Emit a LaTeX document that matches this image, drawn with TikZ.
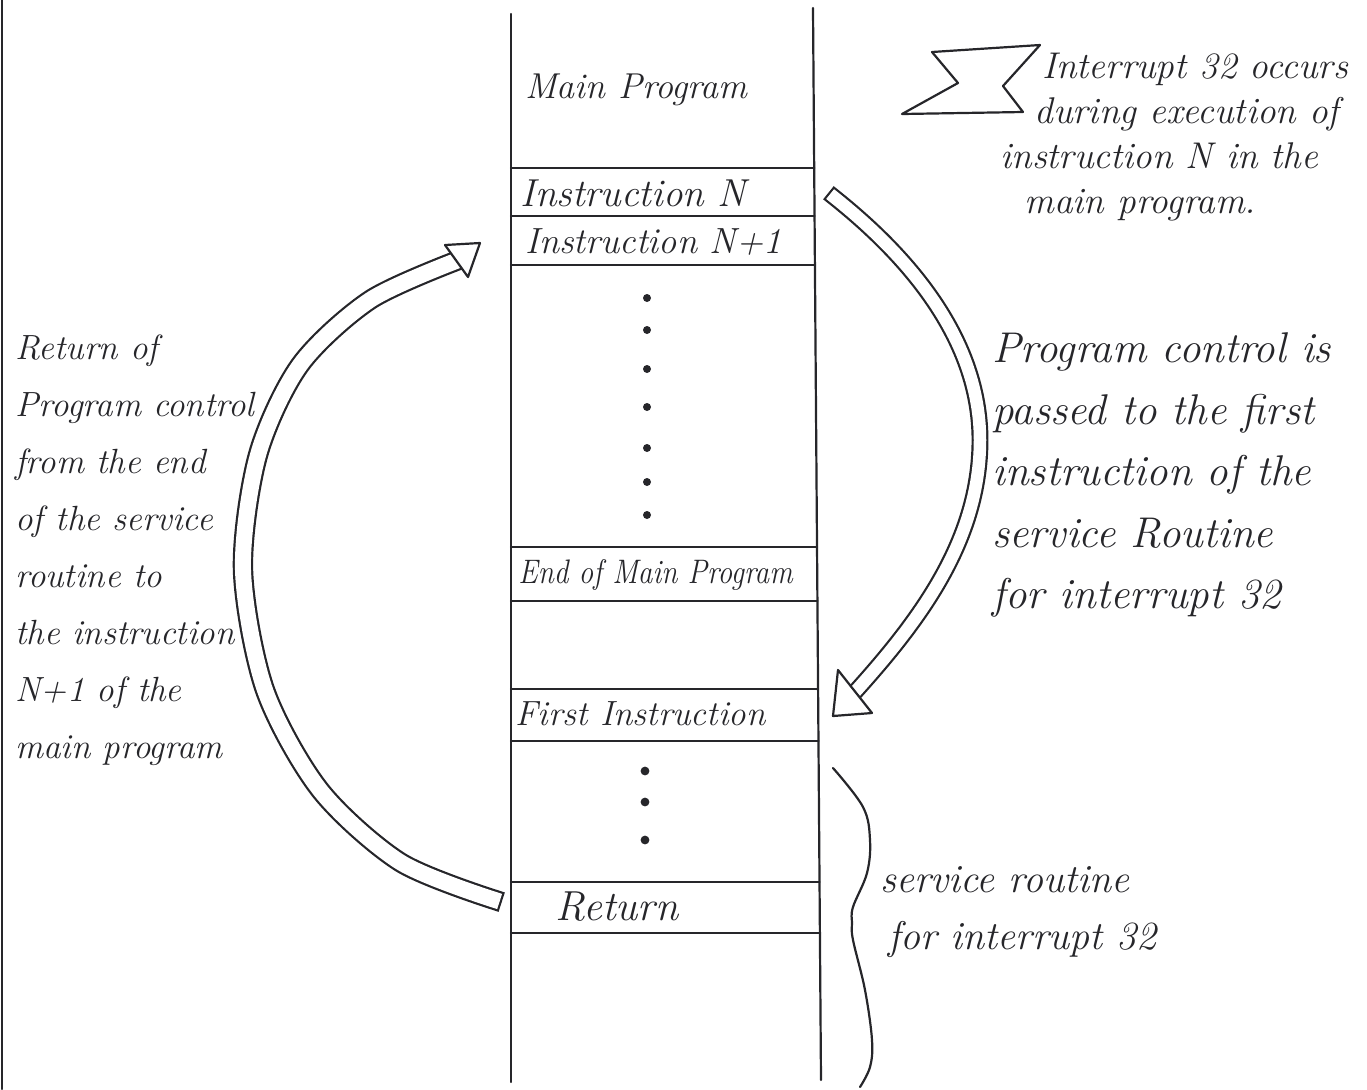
\documentclass[tikz,border=0pt]{standalone}
\usepackage{fontspec}
\usepackage{graphicx}
\usetikzlibrary{calc}
\definecolor{inkc}{RGB}{38,38,42}
\tikzset{
  ink/.style={draw=inkc, line width=1.1pt, line cap=round, line join=round},
  shaft/.style={draw=inkc, line width=1.1pt, double=white, double distance=#1, line cap=rect},
  headtip/.style={draw=inkc, fill=white, line width=1.1pt, line join=round},
  lbl/.style={text=inkc, inner sep=0pt, anchor=west, align=left},
  inkdot/.style={fill=inkc}
}
\newcommand{\fs}[2]{\fontsize{#1}{#2}\selectfont\itshape}
\begin{document}
\begin{tikzpicture}[x=0.5pt,y=-0.5pt]
\useasboundingbox (0,0) rectangle (1367,1089);
% page edge
\draw[ink] (2,0) -- (2,1089);
% memory column
\draw[ink] (511,14) -- (511,1082);
\draw[ink] (813,8) -- (821,1080);
\foreach \y in {168,216,265,547,601,689,741,882,933}
  \draw[ink] (511,\y) -- ({813+(\y-8)*0.00746},\y);
% row texts
\node[lbl, font=\fs{18}{20}] (mainp) at (525,90) {Main Program};
\node[lbl, font=\fs{19.5}{22}] (instN) at (520,193) {Instruction N};
\node[lbl, font=\fs{18.2}{22}] (instN1) at (525,242) {Instruction N+1};
\node[lbl, font=\fs{17}{20}] (endmain) at (518,575) {\scalebox{0.86}[1]{End of Main Program}};
\node[lbl, font=\fs{17.5}{20}] (firsti) at (515,714) {First Instruction};
\node[lbl, font=\fs{21}{24}] (ret) at (555,907) {Return};
% dots
\foreach \y in {298,330,369,407,448,482,515}
  \fill[inkdot] (647,\y) circle (2pt);
\foreach \y in {771,802,840}
  \fill[inkdot] (645,\y) circle (2.2pt);
% interrupt flag
\draw[ink] (932,52) -- (1040,45) -- (1003,86) -- (1023,112) -- (902,114) -- (958,83) -- cycle;
\node[lbl, font=\fs{18.6}{22.5}] (note) at (1000,137)
  {\hspace*{21pt}Interrupt 32 occurs\\ \hspace*{17pt}during execution of\\ instruction N in the\\ \hspace*{12pt}main program.};
% right text
\node[lbl, font=\fs{21.5}{30.75}] (pass) at (992,475)
  {Program control is\\ passed to the first\\ instruction of the\\ service Routine\\ for interrupt 32};
% left text
\node[lbl, font=\fs{17.5}{28.5}] (back) at (15,550)
  {Return of\\ Program control\\ from the end\\ of the service\\ routine to\\ the instruction\\ N+1 of the\\ main program};
% brace and its text
\draw[ink] plot[smooth, tension=0.6] coordinates {(833,768) (863,807) (870,840) (867,873) (853,907) (852,923) (853,940) (865,990) (872,1040) (870,1067) (860,1087)};
\node[lbl, font=\fs{20}{28.5}] (srv) at (880,912) {service routine\\ \hspace*{4pt}for interrupt 32};
% arrow: instruction N -> first instruction
\coordinate (rA) at (835,198);
\coordinate (rM) at (980,440);
\coordinate (rB) at (855,692);
\draw[shaft=6.25pt] (rA) .. controls (910,258) and (980,340) .. (rM)
  .. controls (980,540) and (920,620) .. (rB);
\draw[headtip] (838,670) -- (833,716) -- (872,713) -- cycle;
% arrow: return -> instruction N+1
\coordinate (lA) at (492,899);
\coordinate (lB) at (456,261);
\draw[shaft=8pt] plot[smooth] coordinates {(lA) (400,862) (320,790) (265,690) (243,570) (258,455) (300,365) (370,300) (lB)};
\draw[headtip] (445,245) -- (480,243) -- (468,277) -- cycle;
\end{tikzpicture}
\end{document}
